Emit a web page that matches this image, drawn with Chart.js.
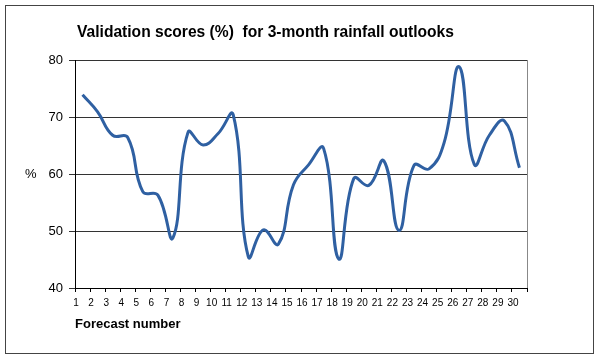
<!DOCTYPE html>
<html>
<head>
<meta charset="utf-8">
<script src="https://cdn.jsdelivr.net/npm/chart.js@4.4.0/dist/chart.umd.min.js"></script>
<style>
  body { margin: 0; background: #fff; }
  #wrap { position: relative; width: 600px; height: 360px; }
  #frame { position: absolute; left: 5px; top: 5px; width: 587px; height: 347px; border: 1px solid #444; pointer-events: none; }
</style>
</head>
<body>
<div id="wrap">
  <canvas id="chart" width="600" height="360"></canvas>
  <div id="frame"></div>
</div>
<script>
// data
const forecastNumbers = ['1','2','3','4','5','6','7','8','9','10','11','12','13','14','15',
                         '16','17','18','19','20','21','22','23','24','25','26','27','28','29','30'];
const scores = [73.9, 70.9, 66.8, 66.4, 56.9, 56.3, 48.8, 67.3, 65.1, 67.1,
                70.4, 45.5, 50.2, 47.7, 58.1, 61.6, 64.5, 45.1, 59.2, 58.0,
                62.3, 50.1, 61.5, 60.9, 65.5, 78.8, 61.7, 66.8, 69.3, 61.1];
const yTicks = [40, 50, 60, 70, 80];

const chartTitle = 'Validation scores (%)  for 3-month rainfall outlooks';
const xTitle = 'Forecast number';
const yTitle = '%';

const FONT = 'Arial, "Liberation Sans", sans-serif';

// texts and right frame line of the plot box
const extras = {
    id: 'extras',
    afterDraw(chart) {
        const ctx = chart.ctx;
        const area = chart.chartArea;
        ctx.save();
        ctx.strokeStyle = '#888';
        ctx.lineWidth = 1;
        ctx.beginPath();
        ctx.moveTo(Math.round(area.right) + 0.5, area.top);
        ctx.lineTo(Math.round(area.right) + 0.5, area.bottom);
        ctx.stroke();

        ctx.fillStyle = '#000';
        ctx.textBaseline = 'alphabetic';
        ctx.textAlign = 'left';
        ctx.font = 'bold 15.6px ' + FONT;
        ctx.fillText(chartTitle, 77, 37);
        ctx.font = 'bold 13px ' + FONT;
        ctx.fillText(xTitle, 75, 328);
        ctx.font = '13px ' + FONT;
        ctx.fillText(yTitle, 25, 178);
        ctx.restore();
    }
};

new Chart(document.getElementById('chart').getContext('2d'), {
    type: 'line',
    data: {
        labels: forecastNumbers,
        datasets: [{
            data: scores,
            borderColor: '#2f60a2',
            borderWidth: 3,
            pointRadius: 0,
            tension: 0.45,
            fill: false
        }]
    },
    options: {
        responsive: false,
        animation: false,
        layout: { padding: { left: 35, right: 73, top: 60, bottom: 42 } },
        plugins: {
            legend: { display: false },
            title: { display: false },
            tooltip: { enabled: false }
        },
        scales: {
            x: {
                type: 'category',
                offset: true,
                grid: { offset: true, drawOnChartArea: false, drawTicks: true, tickLength: 4, color: '#000' },
                border: { color: '#000', width: 1 },
                ticks: {
                    autoSkip: false, maxRotation: 0, minRotation: 0,
                    labelOffset: -6.5, padding: 5, color: '#000',
                    font: { family: FONT, size: 10 }
                },
                afterFit: (s) => { s.height = 30; }
            },
            y: {
                min: 40,
                max: 80,
                afterBuildTicks: (s) => { s.ticks = yTicks.map(v => ({ value: v })); },
                grid: { color: '#333', lineWidth: 1, tickLength: 6 },
                border: { color: '#000', width: 1 },
                ticks: { padding: 6, color: '#000', font: { family: FONT, size: 13 } },
                afterFit: (s) => { s.width = 40; }
            }
        }
    },
    plugins: [extras]
});
</script>
</body>
</html>
